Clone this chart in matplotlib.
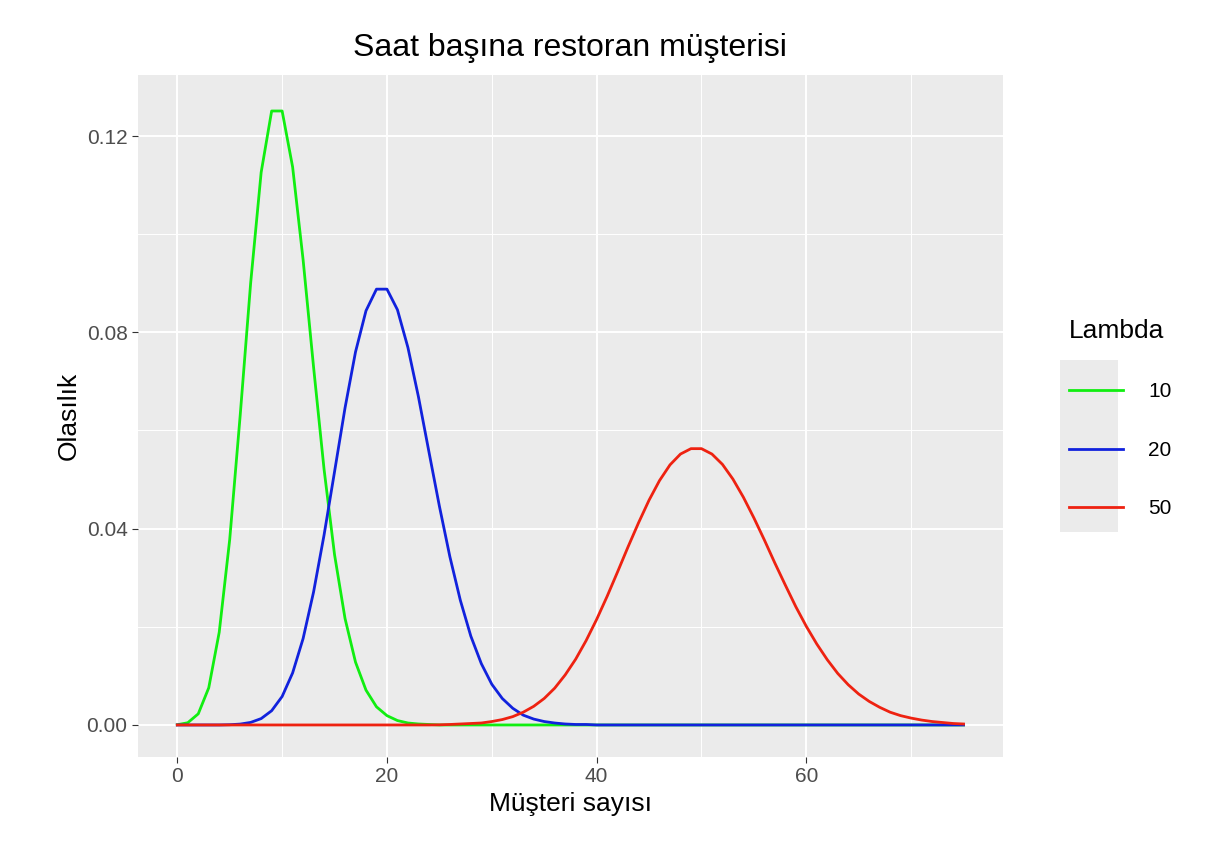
import matplotlib
matplotlib.use("Agg")
import matplotlib.pyplot as plt
from matplotlib.patches import Rectangle
from matplotlib.lines import Line2D

plt.rcParams['font.family'] = ['Liberation Sans', 'DejaVu Sans']

k = list(range(76))
p10 = [0.0000454,0.000454,0.00227,0.00757,0.0189,0.0378,0.0631,0.0901,0.1126,0.1251,0.1251,0.1137,0.0948,0.0729,0.0521,0.0347,0.0217,0.0128,0.0071,0.0037,0.0019,0.0009,0.0004,0.0002,0.0001] + [0.0]*51
p20 = [0,0,0,0,0,0.00005,0.00018,0.00052,0.0013,0.0029,0.0058,0.0106,0.0176,0.0271,0.0387,0.0516,0.0646,0.0760,0.0844,0.0888,0.0888,0.0846,0.0769,0.0669,0.0557,0.0446,0.0343,0.0254,0.0181,0.0125,0.0083,0.0054,0.0034,0.0020,0.0012,0.0007,0.0004,0.0002,0.0001,0.0001] + [0.0]*36
p50 = [0.0]*25 + [0.00003,0.0001,0.0002,0.0003,0.0004,0.0007,0.0011,0.0017,0.0026,0.0038,0.0054,0.0075,0.0102,0.0134,0.0172,0.0215,0.0262,0.0312,0.0363,0.0412,0.0458,0.0498,0.0530,0.0552,0.0563,0.0563,0.0552,0.0531,0.0501,0.0464,0.0422,0.0377,0.0330,0.0285,0.0241,0.0201,0.0165,0.0133,0.0105,0.0082,0.0063,0.0048,0.0036,0.0026,0.0019,0.0014,0.0010,0.0007,0.0005,0.0003,0.0002]
labels = ["10", "20", "50"]
colors = ["#11EE11", "#1122DD", "#EE2211"]

fig = plt.figure(figsize=(12.32, 8.64), dpi=100)
ax = fig.add_axes([0.112, 0.124, 0.702, 0.789])
ax.set_facecolor("#EBEBEB")
for s in ax.spines.values():
    s.set_visible(False)
ax.set_xlim(-3.75, 78.75)
ax.set_ylim(-0.0065, 0.1324)
ax.set_xticks([0, 20, 40, 60])
ax.set_yticks([0.0, 0.04, 0.08, 0.12])
ax.set_yticklabels(["0.00", "0.04", "0.08", "0.12"])
ax.set_xticks([10, 30, 50, 70], minor=True)
ax.set_yticks([0.02, 0.06, 0.10], minor=True)
ax.grid(True, which="major", color="white", lw=1.4)
ax.grid(True, which="minor", color="white", lw=0.7)
ax.set_axisbelow(True)
ax.tick_params(which="major", colors="#333333", labelcolor="#4D4D4D", labelsize=15, length=4)
ax.tick_params(which="minor", length=0)

handles = []
for y, c, l in zip([p10, p20, p50], colors, labels):
    ax.plot(k, y, color=c, lw=2)
    handles.append(Line2D([], [], color=c, lw=2, label=l))

ax.set_xlabel("Müşteri sayısı", fontsize=19)
ax.set_ylabel("Olasılık", fontsize=19)
ax.set_title("Saat başına restoran müşterisi", fontsize=23, pad=14)

fig.patches.append(Rectangle((1060/1232, 1-532/864), 58/1232, 172/864, transform=fig.transFigure, facecolor="#EBEBEB", edgecolor="none", zorder=0))
leg = fig.legend(handles=handles, title="Lambda", loc="upper left", bbox_to_anchor=(1050/1232, 1-300/864),
                 frameon=False, fontsize=15, title_fontsize=19, handlelength=2.6, labelspacing=1.9, handletextpad=1.2)
leg._legend_box.align = "left"
fig.savefig("out.png", dpi=100)
